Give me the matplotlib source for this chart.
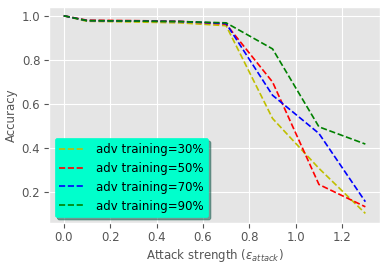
import matplotlib
matplotlib.use("Agg")
import matplotlib.pyplot as plt

plt.style.use("ggplot")

eps = [0.0, 0.1, 0.3, 0.5, 0.7, 0.9, 1.1, 1.3]
acc_30 = [1.0, 0.975, 0.972, 0.968, 0.955, 0.535, 0.309, 0.105]
acc_50 = [1.0, 0.98, 0.978, 0.975, 0.962, 0.70, 0.236, 0.135]
acc_70 = [1.0, 0.978, 0.976, 0.974, 0.965, 0.64, 0.467, 0.158]
acc_90 = [1.0, 0.978, 0.976, 0.974, 0.968, 0.85, 0.497, 0.419]
labels = ["adv training=30%", "adv training=50%", "adv training=70%", "adv training=90%"]
colors = ["y", "r", "b", "g"]

fig, ax = plt.subplots(figsize=(3.89, 2.65), dpi=100)
for vals, lab, c in zip([acc_30, acc_50, acc_70, acc_90], labels, colors):
    ax.plot(eps, vals, "--", color=c, label=lab, linewidth=1.2)

ax.set_xlabel(r"Attack strength ($\epsilon_{attack}$)", fontsize=8.5, labelpad=2)
ax.set_ylabel("Accuracy", fontsize=8.5, labelpad=3)
ax.tick_params(labelsize=8.5, pad=2.5, length=3.5)
ax.set_ylim(0.061, 1.039)
leg = ax.legend(loc="lower left", facecolor="#00ffcc", framealpha=1, shadow=True,
                fontsize=8.5, edgecolor="#00ffcc", handletextpad=1.1)
fig.subplots_adjust(left=0.125, right=0.978, top=0.973, bottom=0.158)
fig.savefig("out.png", dpi=100)
